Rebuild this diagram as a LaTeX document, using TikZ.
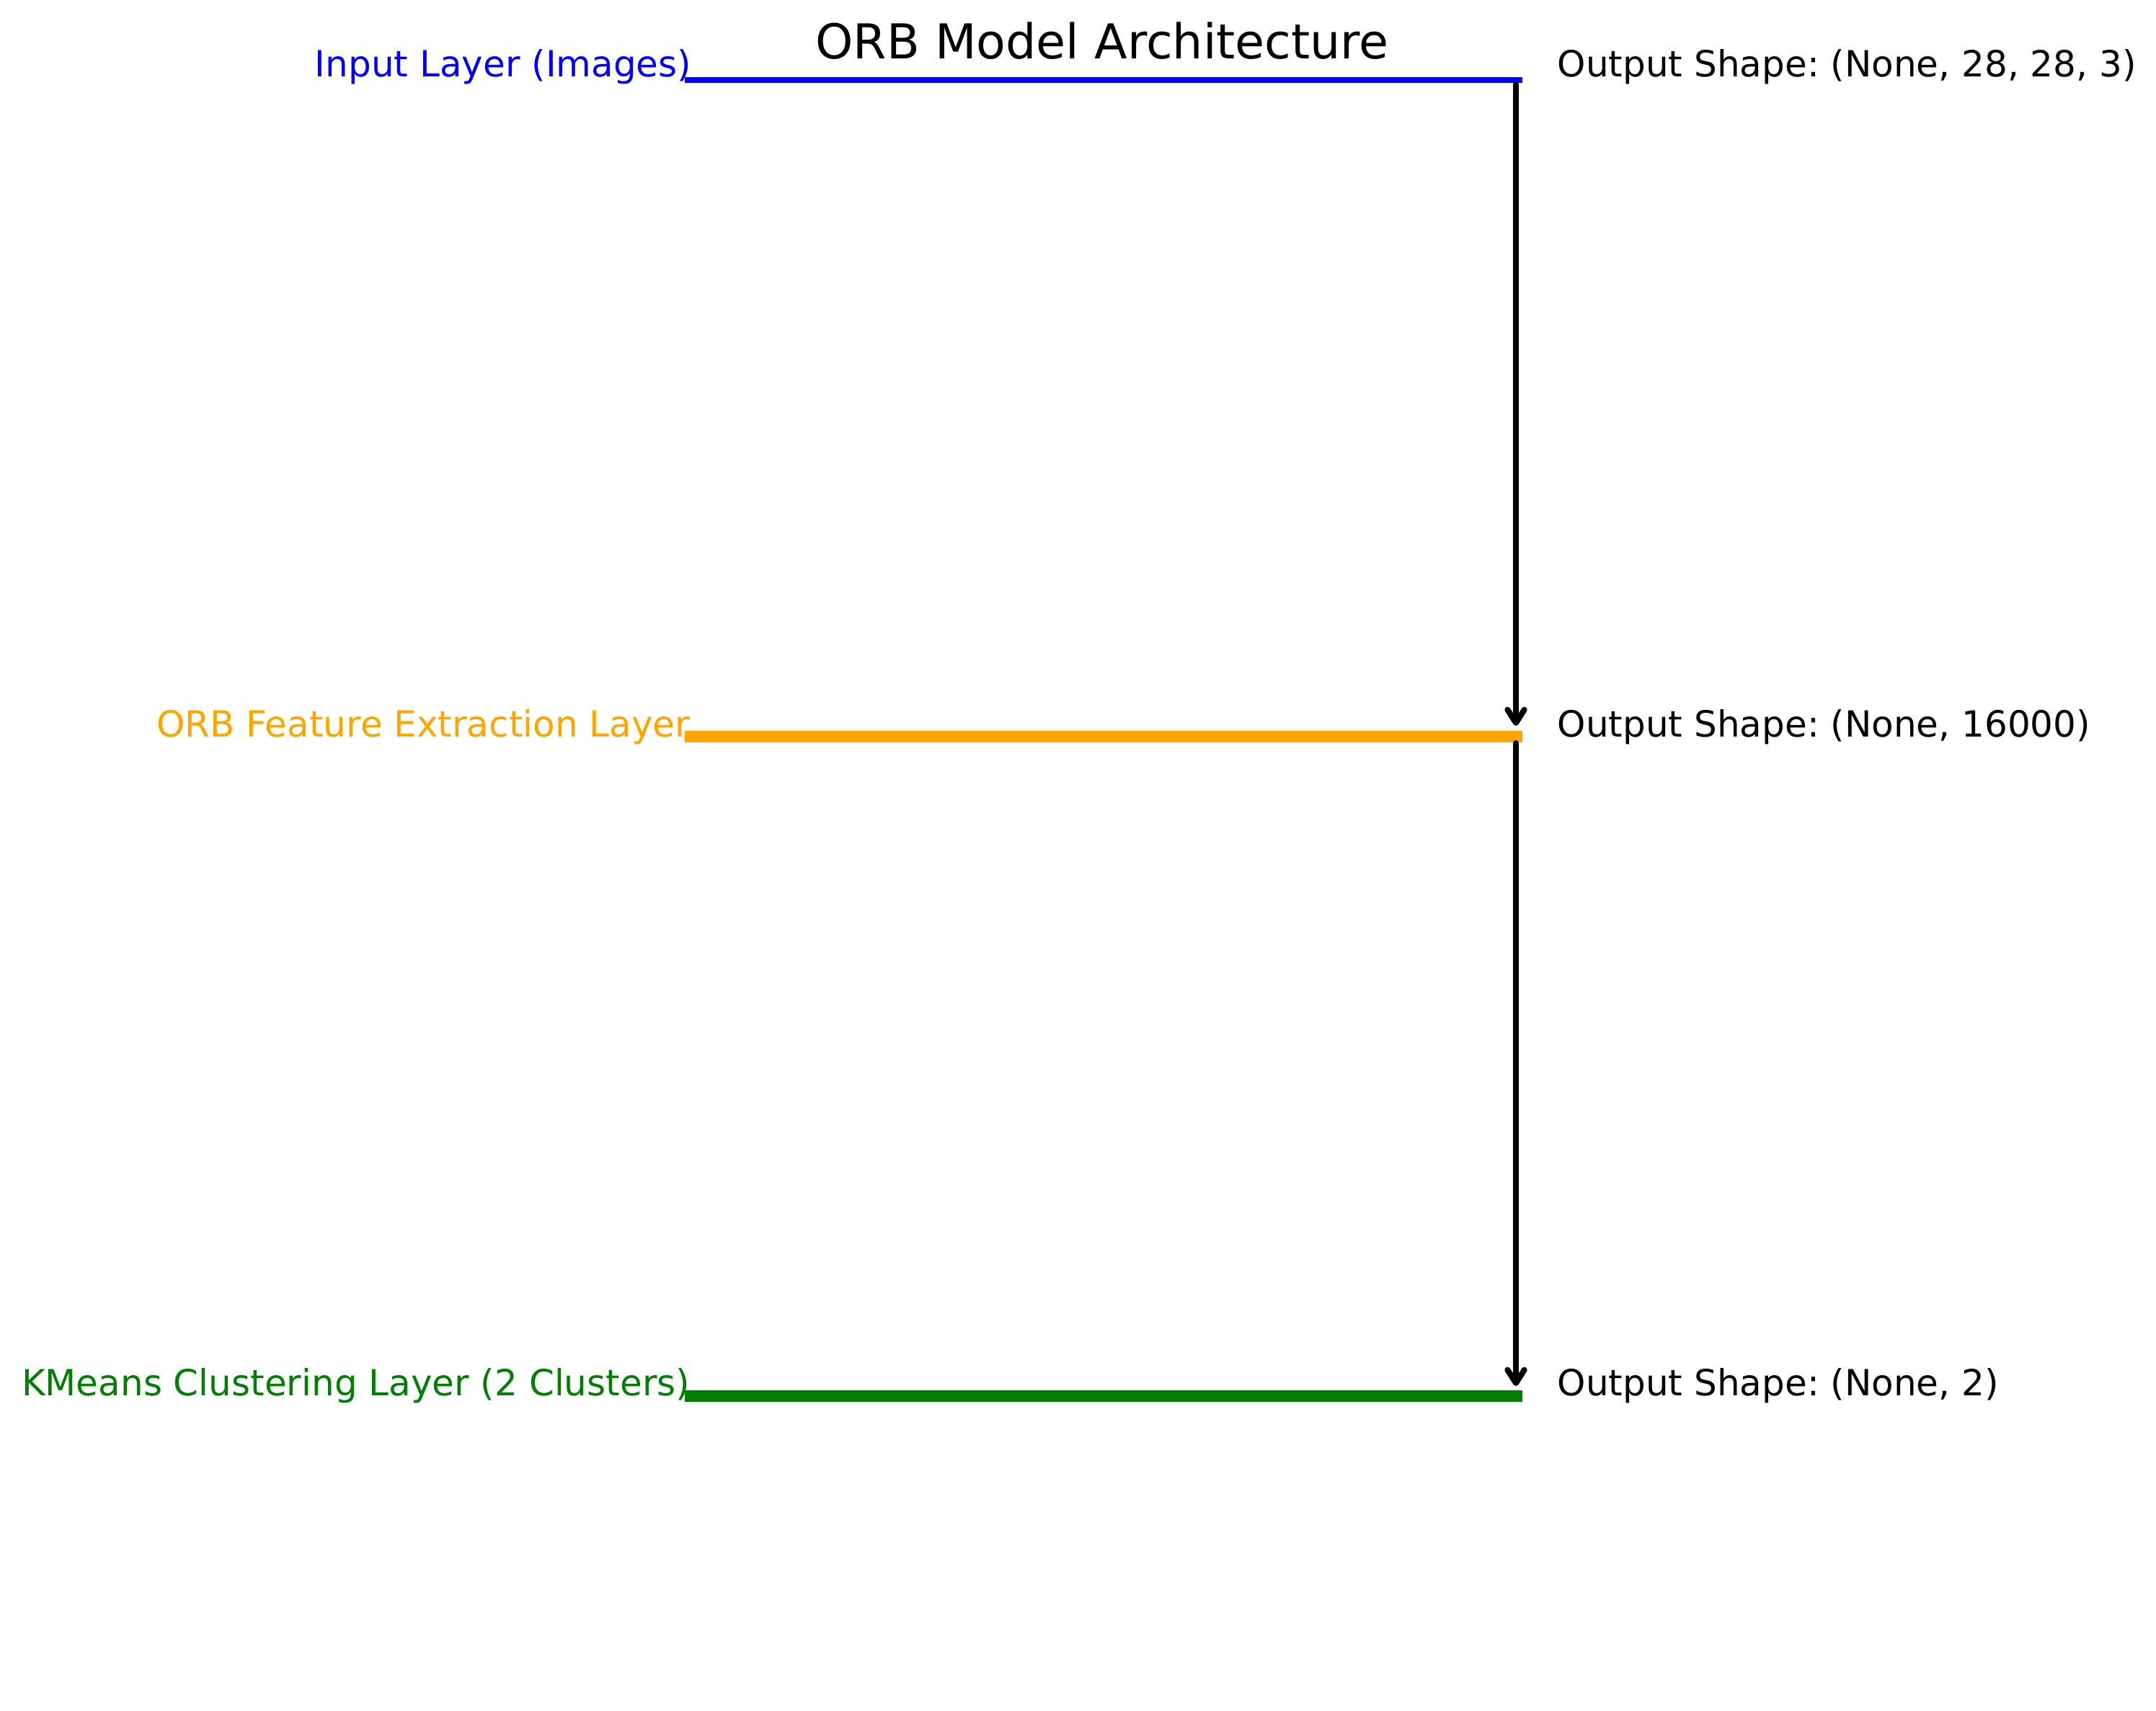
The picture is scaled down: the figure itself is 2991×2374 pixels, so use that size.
\documentclass[tikz,border=0pt]{standalone}
\usepackage{fontspec}
\setmainfont{DejaVu Sans}
\usetikzlibrary{arrows.meta}
\definecolor{mplblue}{RGB}{0,0,255}
\definecolor{mplorange}{RGB}{255,165,0}
\definecolor{mplgreen}{RGB}{0,128,0}
\tikzset{
  layerlabel/.style={inner sep=0pt, font=\fontsize{12}{14}\selectfont\frenchspacing},
  shapelabel/.style={inner sep=0pt, anchor=base west, text=black, font=\fontsize{12}{14}\selectfont\frenchspacing},
  titlelabel/.style={inner sep=0pt, anchor=base, text=black, font=\fontsize{16}{19}\selectfont},
  flowarrow/.style={draw=black, line width=1.92pt, line cap=round,
    -{Straight Barb[length=4.4pt,width=5.6pt,line width=1.92pt,round]}},
}
\begin{document}
\begin{tikzpicture}[x=0.24pt,y=-0.24pt]
\useasboundingbox (0,0) rectangle (2991,2374);
\fill[white] (0,0) rectangle (2991,2374);

% layer line ends
\coordinate (inL) at (950,111);
\coordinate (inR) at (2112,111);
\coordinate (orbL) at (950,1022);
\coordinate (orbR) at (2112,1022);
\coordinate (kmL) at (950,1937);
\coordinate (kmR) at (2112,1937);

% title
\node[titlelabel] (title) at (1529,82) {ORB Model Architecture};

% layer lines
\draw[mplblue, line width=1.92pt] (inL) -- (inR);
\draw[mplorange, line width=3.84pt] (orbL) -- (orbR);
\draw[mplgreen, line width=3.84pt] (kmL) -- (kmR);

% arrows
\coordinate (a1s) at (2103,117);
\coordinate (a1e) at (2103,1007);
\coordinate (a2s) at (2103,1031);
\coordinate (a2e) at (2103,1923);
\draw[flowarrow] (a1s) -- (a1e);
\draw[flowarrow] (a2s) -- (a2e);

% layer labels
\node[layerlabel, anchor=base east, text=mplblue] (inlab) at (960,107) {Input Layer (Images)};
\node[layerlabel, anchor=base east, text=mplorange] (orblab) at (958,1022) {ORB Feature Extraction Layer};
\node[layerlabel, anchor=base east, text=mplgreen] (kmlab) at (958,1936) {KMeans Clustering Layer (2 Clusters)};

% output shape labels
\node[shapelabel] (inshape) at (2160,107) {Output Shape: (None, 28, 28, 3)};
\node[shapelabel] (orbshape) at (2160,1022) {Output Shape: (None, 16000)};
\node[shapelabel] (kmshape) at (2160,1936) {Output Shape: (None, 2)};
\end{tikzpicture}
\end{document}
